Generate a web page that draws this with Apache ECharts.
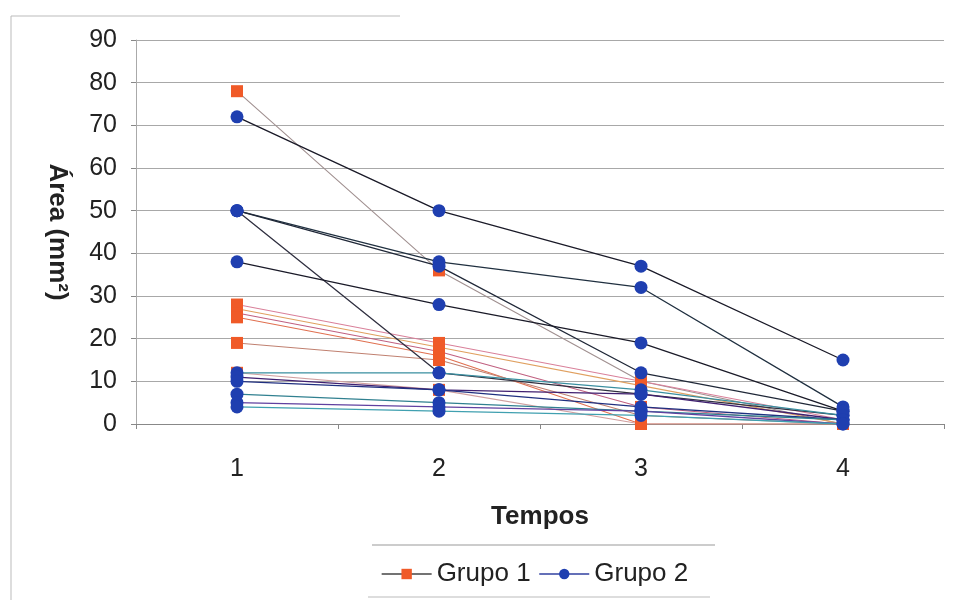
<!DOCTYPE html>
<html>
<head>
<meta charset="utf-8">
<script src="https://cdn.jsdelivr.net/npm/echarts@6/dist/echarts.min.js"></script>
<style>html,body{margin:0;padding:0;background:#fff;}#c{width:953px;height:600px;}</style>
</head>
<body>
<div id="c"></div>
<script>
var tempos = ['1', '2', '3', '4'];
var yTicks = [0, 10, 20, 30, 40, 50, 60, 70, 80, 90];

// Grupo 1 (orange squares), one array per subject
var g1s1 = [78, 36, 10, 0];
var g1s2 = [28, 19, 10, 1];
var g1s3 = [27, 18, 9, 0];
var g1s4 = [26, 17, 4, 0];
var g1s5 = [25, 16, 0, 0];
var g1s6 = [19, 15, 2, 0];
var g1s7 = [12, 8, 0, 0];
var grupo1 = [g1s1, g1s2, g1s3, g1s4, g1s5, g1s6, g1s7];

// Grupo 2 (blue circles), one array per subject
var g2s1 = [72, 50, 37, 15];
var g2s2 = [50, 38, 32, 4];
var g2s3 = [50, 37, 12, 3];
var g2s4 = [50, 12, 7, 2];
var g2s5 = [38, 28, 19, 3];
var g2s6 = [12, 12, 8, 2];
var g2s7 = [11, 8, 7, 1];
var g2s8 = [10, 8, 4, 1];
var g2s9 = [7, 5, 3, 1];
var g2s10 = [5, 4, 3, 0];
var g2s11 = [4, 3, 2, 0];
var grupo2 = [g2s1, g2s2, g2s3, g2s4, g2s5, g2s6, g2s7, g2s8, g2s9, g2s10, g2s11];

var g1LineColors = ['#a09090', '#d9809a', '#e0a060', '#c06080', '#e07050', '#c08070', '#d0a0a0'];
var g2LineColors = ['#1a1a28', '#203040', '#202838', '#303040', '#1a1a28', '#3a8fa0', '#402070', '#203080', '#308090', '#6040a0', '#40a0b0'];

var series = [];
grupo2.forEach(function (d, i) {
  series.push({
    name: 'Grupo 2', type: 'line', data: d,
    symbol: 'circle', symbolSize: 13,
    itemStyle: { color: '#1f3fb0' },
    lineStyle: { color: g2LineColors[i], width: 1.3 },
    emphasis: { disabled: true }, z: 3
  });
});
grupo1.forEach(function (d, i) {
  series.push({
    name: 'Grupo 1', type: 'line', data: d,
    symbol: 'rect', symbolSize: 12,
    itemStyle: { color: '#f05a28' },
    lineStyle: { color: g1LineColors[i], width: 1.1 },
    emphasis: { disabled: true }, z: 2
  });
});

var FONT = 'Liberation Sans';
var chart = echarts.init(document.getElementById('c'));
chart.setOption({
  animation: false,
  backgroundColor: '#fff',
  grid: { left: 136, right: 9, top: 40, bottom: 176 },
  xAxis: {
    type: 'category', data: tempos, boundaryGap: true,
    name: 'Tempos', nameLocation: 'middle', nameGap: 80,
    nameTextStyle: { fontFamily: FONT, fontWeight: 'bold', fontSize: 26, color: '#222' },
    axisLine: { lineStyle: { color: '#888', width: 1 } },
    axisTick: { show: true, alignWithLabel: false, lineStyle: { color: '#888' } },
    axisLabel: { fontFamily: FONT, fontSize: 25, color: '#222', margin: 33 }
  },
  yAxis: {
    type: 'value', min: 0, max: 90, interval: 10,
    name: 'Área (mm²)', nameLocation: 'middle', nameGap: 66, nameRotate: -90,
    nameTextStyle: { fontFamily: FONT, fontWeight: 'bold', fontSize: 26, color: '#222' },
    axisLine: { show: true, lineStyle: { color: '#aaa' } },
    axisTick: { show: true, lineStyle: { color: '#888' } },
    splitLine: { lineStyle: { color: '#a8a8a8', width: 1 } },
    axisLabel: { fontFamily: FONT, fontSize: 25, color: '#222', margin: 19,
      formatter: function (v) { return yTicks.indexOf(v) >= 0 ? String(v) : ''; } }
  },
  legend: {
    data: [
      { name: 'Grupo 1', itemStyle: { color: '#f05a28' }, lineStyle: { color: '#444', width: 1.3 } },
      { name: 'Grupo 2', itemStyle: { color: '#1f3fb0' }, lineStyle: { color: '#3040a0', width: 1.3 } }
    ],
    left: 376, top: 556, itemWidth: 50, itemHeight: 13, itemGap: 8,
    textStyle: { fontFamily: FONT, fontSize: 26, color: '#222' }
  },
  graphic: [
    { type: 'line', shape: { x1: 372, y1: 545, x2: 715, y2: 545 }, style: { stroke: '#999', lineWidth: 1 } },
    { type: 'line', shape: { x1: 368, y1: 597, x2: 710, y2: 597 }, style: { stroke: '#bbb', lineWidth: 1 } },
    { type: 'line', shape: { x1: 11, y1: 16, x2: 11, y2: 600 }, style: { stroke: '#bbb', lineWidth: 1 } },
    { type: 'line', shape: { x1: 11, y1: 16, x2: 400, y2: 16 }, style: { stroke: '#bbb', lineWidth: 1 } }
  ],
  series: series
});
</script>
</body>
</html>
